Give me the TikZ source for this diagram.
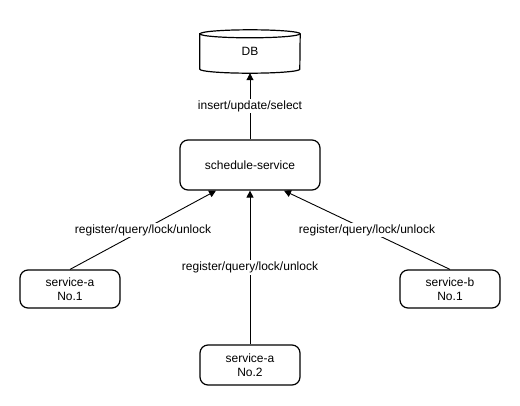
\documentclass[tikz,border=0pt]{standalone}
\usepackage{fontspec}
\setmainfont{Liberation Sans}
\usetikzlibrary{arrows.meta}
\begin{document}
\begin{tikzpicture}[x=1pt, y=-1pt, font=\fontsize{12}{14.5}\selectfont,
    box/.style={draw, rounded corners=8pt, line width=1.2pt, align=center, inner sep=0pt},
    lbl/.style={fill=white, inner sep=1.5pt},
    conn/.style={line width=0.9pt, -{Triangle[length=7pt,width=7pt]}}]
      \useasboundingbox (0,0) rectangle (520,405);
      \node[minimum width=100pt, minimum height=43pt] (db) at (250,51.5){DB};
      \draw[line width=1.2pt]([yshift=-4pt]db.north west) -- ([yshift=4pt]db.south west)
        arc[start angle=180, end angle=360, x radius=50pt, y radius=4pt]
        -- ([yshift=-4pt]db.north east)
        arc[start angle=0, end angle=180, x radius=50pt, y radius=4pt] -- cycle;
      \draw[line width=1.2pt]([yshift=-4pt]db.north west)
        arc[start angle=180, end angle=360, x radius=50pt, y radius=4pt];
      \node[box, minimum width=140pt, minimum height=50pt] (sched) at (250,165){schedule-service};
      \node[box, minimum width=100pt, minimum height=38pt] (sa1) at (70,289){service-a\\No.1};
      \node[box, minimum width=100pt, minimum height=40pt] (sa2) at (250,365){service-a\\No.2};
      \node[box, minimum width=100pt, minimum height=38pt] (sb1) at (450,289){service-b\\No.1};
      \draw[conn](sched) -- node[lbl]{insert/update/select} (db);
      \draw[conn](sa1.north) -- node[lbl]{register/query/lock/unlock} (sched.-143);
      \draw[conn](sa2) -- node[lbl]{register/query/lock/unlock} (sched);
      \draw[conn](sb1.north) -- node[lbl]{register/query/lock/unlock} (sched.-37);
\end{tikzpicture}
\end{document}
